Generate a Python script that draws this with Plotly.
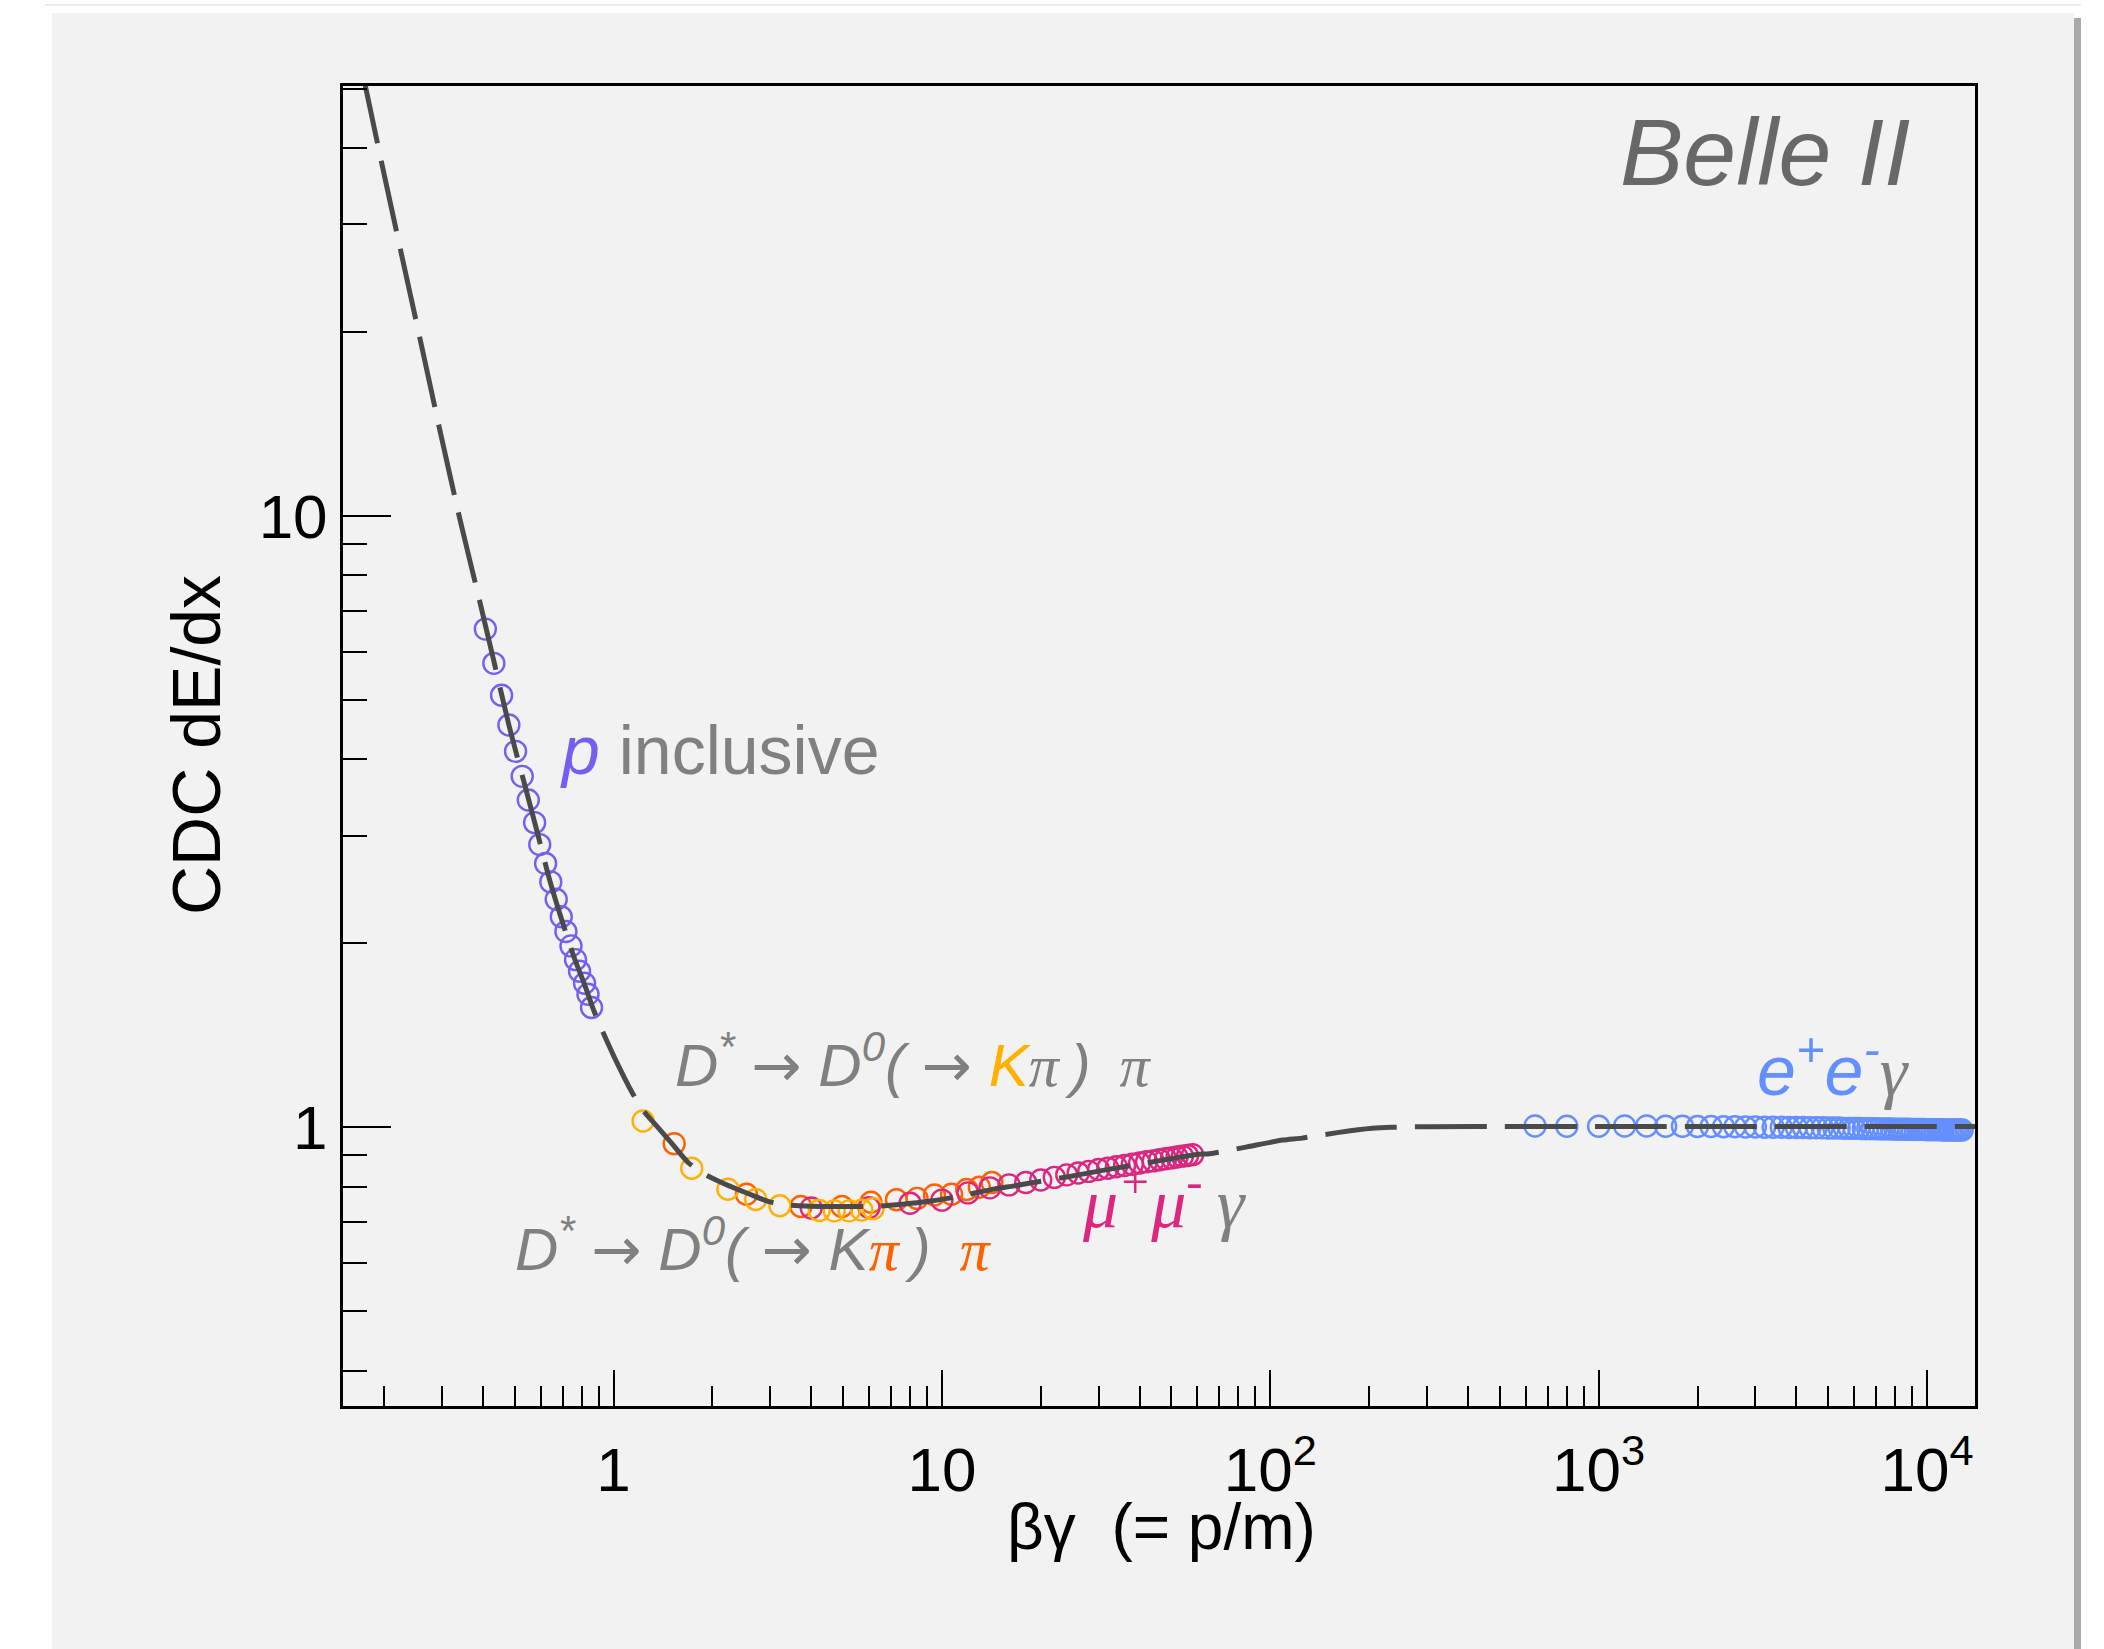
import math
import plotly.graph_objects as go

# ---------------- data ----------------
curve_bg = [0.172, 0.176, 0.198, 0.226, 0.259, 0.296, 0.340, 0.392, 0.430, 0.480,
            0.530, 0.580, 0.640, 0.700, 0.760, 0.820, 0.860, 0.903, 1.00, 1.142,
            1.223, 1.35, 1.50, 1.69, 1.885, 2.20, 2.60, 2.97, 3.42, 4.0,
            4.7, 5.5, 6.5, 7.7, 9.0, 10.4, 12.5, 14.5, 16.6, 19.2,
            24.0, 31.2, 35.9, 45.0, 58.3, 67.1, 85.0, 109, 125, 160,
            204, 234, 300, 600, 1000, 3000, 14000]
curve_dedx = [53.1, 50.1, 37.2, 26.8, 19.2, 13.8, 9.91, 7.22, 5.85, 4.55,
              3.72, 3.10, 2.53, 2.16, 1.89, 1.70, 1.58, 1.48, 1.31, 1.137,
              1.070, 1.006, 0.943, 0.875, 0.839, 0.806, 0.777, 0.756, 0.746, 0.743,
              0.742, 0.742, 0.743, 0.749, 0.756, 0.765, 0.780, 0.793, 0.802, 0.813,
              0.829, 0.851, 0.862, 0.880, 0.901, 0.907, 0.929, 0.953, 0.960, 0.980,
              0.996, 1.000, 1.002, 1.003, 1.003, 1.003, 1.003]

p_bg = [0.407, 0.432, 0.456, 0.480, 0.503, 0.527, 0.550, 0.575, 0.596, 0.621,
        0.644, 0.669, 0.693, 0.716, 0.742, 0.766, 0.788, 0.816, 0.836, 0.857]
p_dedx = [6.53, 5.74, 5.09, 4.55, 4.12, 3.75, 3.43, 3.15, 2.90, 2.70,
          2.52, 2.36, 2.21, 2.09, 1.98, 1.88, 1.80, 1.72, 1.65, 1.57]

k_bg = [1.23, 1.73, 2.23, 2.71, 3.21, 4.23, 4.70, 5.22, 5.70, 6.17]
k_dedx = [1.024, 0.857, 0.792, 0.762, 0.744, 0.731, 0.730, 0.730, 0.732, 0.736]

pi_bg = [1.53, 2.54, 3.72, 4.96, 6.08, 7.27, 8.4, 9.49, 10.7, 11.9, 13.0, 14.2]
pi_dedx = [0.940, 0.777, 0.742, 0.742, 0.754, 0.761, 0.765, 0.775, 0.777, 0.791, 0.798, 0.812]

mu_bg = [4, 6, 8, 10, 12, 14, 16, 18, 20, 22, 24, 26, 28, 30,
         32, 34, 36, 38, 40, 42, 44, 46, 48, 50, 52, 54, 56, 58]
mu_dedx = [0.738, 0.739, 0.751, 0.760, 0.781, 0.796, 0.805, 0.812, 0.820, 0.828,
           0.836, 0.842, 0.847, 0.853, 0.857, 0.862, 0.866, 0.870, 0.874, 0.878,
           0.881, 0.885, 0.888, 0.891, 0.894, 0.897, 0.899, 0.902]

e_bg = [640, 800, 1000, 1200, 1400, 1600, 1800, 2000, 2200, 2400,
        2600, 2800, 3000, 3200, 3400, 3600, 3800, 4000, 4200, 4400,
        4600, 4800, 5000, 5200, 5400, 5600, 5800, 6000, 6200, 6400,
        6600, 6800, 7000, 7200, 7400, 7600, 7800, 8000, 8200, 8400,
        8600, 8800, 9000, 9200, 9400, 9600, 9800, 10000, 10200, 10400,
        10600, 10800, 11000, 11200, 11400, 11600, 11800, 12000, 12200, 12400,
        12600, 12800]
e_dedx = [1.005, 1.004, 1.004, 1.005, 1.005, 1.004, 1.004, 1.003, 1.003, 1.002,
          1.002, 1.001, 1.001, 1.000, 1.000, 1.000, 0.999, 0.999, 0.999, 0.998,
          0.998, 0.998, 0.997, 0.997, 0.997, 0.996, 0.996, 0.996, 0.996, 0.995,
          0.995, 0.995, 0.995, 0.994, 0.994, 0.994, 0.994, 0.993, 0.993, 0.993,
          0.993, 0.993, 0.992, 0.992, 0.992, 0.992, 0.992, 0.991, 0.991, 0.991,
          0.991, 0.991, 0.991, 0.990, 0.990, 0.990, 0.990, 0.990, 0.990, 0.990,
          0.990, 0.990]

x_tickvals = [1, 10, 100, 1000, 10000]
x_ticktext = ["1", "10", "10<sup>2</sup>", "10<sup>3</sup>", "10<sup>4</sup>"]
x_minor = [0.2, 0.3, 0.4, 0.5, 0.6, 0.7, 0.8, 0.9,
           2, 3, 4, 5, 6, 7, 8, 9,
           20, 30, 40, 50, 60, 70, 80, 90,
           200, 300, 400, 500, 600, 700, 800, 900,
           2000, 3000, 4000, 5000, 6000, 7000, 8000, 9000]
y_tickvals = [1, 10]
y_ticktext = ["1", "10"]
y_minor = [0.4, 0.5, 0.6, 0.7, 0.8, 0.9, 2, 3, 4, 5, 6, 7, 8, 9, 20, 30, 40, 50]

x_range = [0.15, 14000]
y_range = [0.35, 50.5]

# ---------------- style ----------------
W, H = 2104, 1649
L, R, T, B = 343, 1975, 86, 1406
BG = "#f2f2f2"
FONT = "Liberation Sans, Arial, Helvetica, sans-serif"
GRAY = "#808080"
C_P, C_K, C_PI, C_MU, C_E = "#785EF0", "#FFB000", "#FE6100", "#DC267F", "#648FFF"
SERIF = "font-family:Liberation Serif"
ARROW = "<span style='font-family:DejaVu Sans;font-style:normal'>→</span>"
NB = "\u00a0"
TH = "\u2009"


def fx(x):
    return (x - L) / (R - L)


def fy(y):
    return (B - y) / (B - T)


fig = go.Figure()


def pts(xs, ys, col):
    fig.add_trace(go.Scatter(
        x=xs, y=ys, mode="markers",
        marker=dict(symbol="circle-open", size=21, color=col, line=dict(width=2.4, color=col)),
        showlegend=False, hoverinfo="skip"))


pts(p_bg, p_dedx, C_P)
pts(pi_bg, pi_dedx, C_PI)
pts(mu_bg, mu_dedx, C_MU)
pts(k_bg, k_dedx, C_K)
pts(e_bg, e_dedx, C_E)

fig.add_trace(go.Scatter(
    x=curve_bg, y=curve_dedx, mode="lines",
    line=dict(color="#4a4a4a", width=5, dash="72px,18px", shape="spline", smoothing=0.6),
    showlegend=False, hoverinfo="skip"))

axis_common = dict(
    type="log", showgrid=False, zeroline=False,
    showline=True, linecolor="black", linewidth=3, mirror=True,
    ticks="inside", tickcolor="black", tickwidth=2,
    tickfont=dict(family=FONT, size=62, color="black"),
    tickmode="array",
)

fig.update_xaxes(
    **axis_common,
    range=[math.log10(x_range[0]), math.log10(x_range[1])],
    tickvals=x_tickvals, ticktext=x_ticktext, ticklen=36,
    ticklabelstandoff=8,
    minor=dict(tickmode="array", tickvals=x_minor, ticks="inside", ticklen=20,
               tickcolor="black", tickwidth=2, showgrid=False),
)
fig.update_yaxes(
    **axis_common,
    range=[math.log10(y_range[0]), math.log10(y_range[1])],
    tickvals=y_tickvals, ticktext=y_ticktext, ticklen=48,
    ticklabelstandoff=0,
    minor=dict(tickmode="array", tickvals=y_minor, ticks="inside", ticklen=24,
               tickcolor="black", tickwidth=2, showgrid=False),
)

ann = []


def add(text, x, y, size, color=GRAY, xanchor="left", yanchor="middle", angle=0):
    ann.append(dict(text=text, x=fx(x), y=fy(y), xref="paper", yref="paper",
                    xanchor=xanchor, yanchor=yanchor, showarrow=False, textangle=angle,
                    font=dict(family=FONT, size=size, color=color)))


add("<i>Belle II</i>", 1912, 152, 95, color="#686868", xanchor="right")
add(f"<i><span style='color:{C_P}'>p</span></i> inclusive", 558, 750, 68)
add(f"<i>D<sup>*</sup>{NB}{ARROW}{NB}D<sup>0</sup>({NB}{ARROW}{NB}<span style='color:{C_K}'>K</span>"
    f"<span style='{SERIF}'>π</span>{TH}){NB}{TH}<span style='{SERIF}'>π</span></i>",
    673, 1061, 60)
add(f"<i>D<sup>*</sup>{NB}{ARROW}{NB}D<sup>0</sup>({NB}{ARROW}{NB}K"
    f"<span style='{SERIF};color:{C_PI}'>π</span>{TH}){NB}{TH}<span style='{SERIF};color:{C_PI}'>π</span></i>",
    513, 1245, 60)
add(f"<i><span style='{SERIF};color:{C_MU}'>μ<sup>+</sup>μ<sup>-</sup></span>"
    f"<span style='{SERIF}'>{TH}γ</span></i>", 1080, 1198, 70)
add(f"<i><span style='color:{C_E}'>e<sup>+</sup>e<sup>-</sup></span>"
    f"<span style='{SERIF}'>γ</span></i>", 1755, 1066, 70)
add(f"βγ{NB}{NB}(= p/m)", 1161, 1527, 64, color="black", xanchor="center")
add("CDC dE/dx", 196, 745, 68, color="black", xanchor="center", angle=-90)

shapes = [
    dict(type="rect", xref="paper", yref="paper", layer="below",
         x0=fx(52), x1=fx(2074), y0=fy(13), y1=fy(H + 5),
         fillcolor=BG, line=dict(width=0)),
    dict(type="rect", xref="paper", yref="paper", layer="below",
         x0=fx(2074), x1=fx(2081), y0=fy(18), y1=fy(H + 5),
         fillcolor="#aaaaaa", line=dict(width=0)),
    dict(type="line", xref="paper", yref="paper", layer="below",
         x0=fx(45), x1=fx(2081), y0=fy(5), y1=fy(5),
         line=dict(color="#ececec", width=2)),
]

fig.update_layout(
    width=W, height=H,
    margin=dict(l=L, r=W - R, t=T, b=H - B, pad=0),
    paper_bgcolor="white", plot_bgcolor=BG,
    annotations=ann, shapes=shapes,
    font=dict(family=FONT),
)

fig.write_html("out.html")
